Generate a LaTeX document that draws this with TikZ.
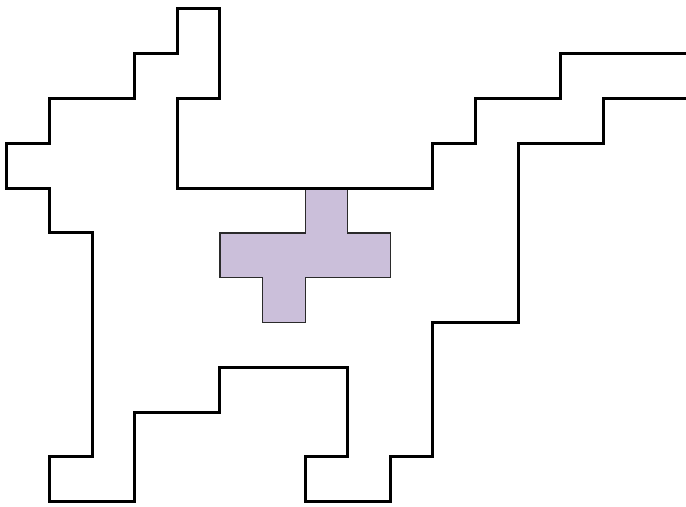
\documentclass[tikz,border=0pt]{standalone}
\definecolor{cOut}{HTML}{000000}
\definecolor{cFill}{HTML}{CBBFDA}
\definecolor{cEdge}{HTML}{2A2A2A}

\begin{document}
\begin{tikzpicture}[x=21.3pt,y=-22.4pt,line cap=butt,line join=miter]

  \useasboundingbox (-0.164,-0.2) rectangle (15.94,11.116);
  \clip (-0.164,-0.2) rectangle (15.94,11.116);

  % the piece in the middle
  \fill[cFill,draw=cEdge,line width=0.6pt]
    (7,4) -| (8,5) -| (9,6) -| (7,7) -| (6,6) -| (5,5) -| (7,4) -- cycle;

  % the outline
  \draw[cOut,line width=1.5pt] plot[sharp plot] coordinates
    {(16.5,1) (13,1) (13,2) (11,2) (11,3) (10,3) (10,4) (4,4) (4,2) (5,2)
     (5,0) (4,0) (4,1) (3,1) (3,2) (1,2) (1,3) (0,3) (0,4) (1,4) (1,5) (2,5)
     (2,10) (1,10) (1,11) (3,11) (3,9) (5,9) (5,8) (8,8) (8,10) (7,10)
     (7,11) (9,11) (9,10) (10,10) (10,7) (12,7) (12,3) (14,3) (14,2) (16.5,2)};

\end{tikzpicture}
\end{document}
